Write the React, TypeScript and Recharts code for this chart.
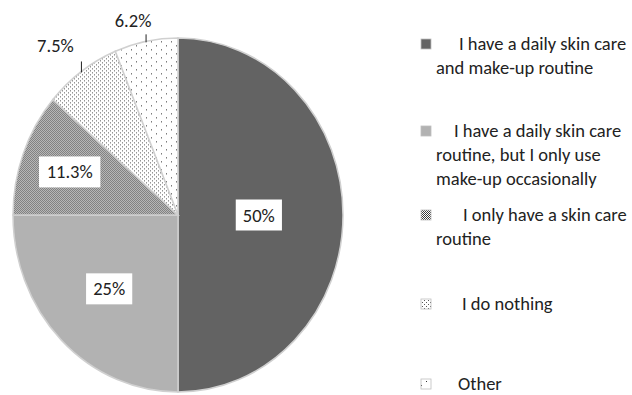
import React from 'react';
import { PieChart, Pie, Cell, Sector, Legend } from 'recharts';

// answers, in the order they are drawn (clockwise from 12 o'clock)
const categories = [
  'I have a daily skin care\nand make-up routine',
  'I have a daily skin care\nroutine, but I only use\nmake-up occasionally',
  'I only have a skin care\nroutine',
  'I do nothing',
  'Other',
];
const shares = [50, 25, 11.3, 7.5, 6.2];
const shareLabels = ['50%', '25%', '11.3%', '7.5%', '6.2%'];

const data = categories.map((name, i) => ({ name, value: shares[i], text: shareLabels[i] }));

const pieFills = ['#636363', '#b2b2b2', 'url(#patCheck)', 'url(#patDots)', 'url(#patSparse)'];
const legendFills = ['#636363', '#b2b2b2', 'url(#legCheck)', 'url(#legDots)', 'url(#legSparse)'];

// the original pie is a bit taller than wide
const SY = 177 / 165;
const FONT = 'Carlito, Lato, sans-serif';
const FS = 18.5;

// where each value label sits
const labelPlace = [
  { inside: true, r: 0.49 },
  { inside: true, r: 0.59 },
  { inside: true, r: 0.7 },
  { inside: false, dx: -26, lift: 10, textLift: 19 },
  { inside: false, dx: -13, lift: 7, textLift: 14 },
];

// legend: first-line indent and marker top for each item
const legendIndent = [23, 18, 27, 26, 22];
const legendTop = [39, 126, 210, 299, 379];

const charW = (c: string) => (c === '%' ? 0.85 : c === '.' ? 0.24 : 0.58);
const textWidth = (s: string) => s.split('').reduce((a, c) => a + charW(c) * FS, 0);

function PatternSet({ prefix, transform }: { prefix: string; transform?: string }) {
  return (
    <>
      <pattern id={`${prefix}Check`} width="2" height="2" patternUnits="userSpaceOnUse" patternTransform={transform}>
        <rect width="2" height="2" fill="#ffffff" />
        <rect x="0" y="0" width="1" height="1" fill="#3a3a3a" />
        <rect x="1" y="1" width="1" height="1" fill="#3a3a3a" />
      </pattern>
      <pattern id={`${prefix}Dots`} width="4" height="4" patternUnits="userSpaceOnUse" patternTransform={transform}>
        <rect width="4" height="4" fill="#ffffff" />
        <rect x="0" y="0" width="1" height="1" fill="#5a5a5a" />
        <rect x="2" y="2" width="1" height="1" fill="#5a5a5a" />
      </pattern>
      <pattern id={`${prefix}Sparse`} width="10" height="8" patternUnits="userSpaceOnUse" patternTransform={transform}>
        <rect width="10" height="8" fill="#ffffff" />
        <rect x="1" y="1" width="1" height="1" fill="#333333" />
        <rect x="6" y="5" width="1" height="1" fill="#333333" />
      </pattern>
    </>
  );
}

const ovalSector = (props: any) => {
  const { cx, cy } = props;
  return (
    <g transform={`translate(${cx},${cy}) scale(1,${SY}) translate(${-cx},${-cy})`}>
      <Sector {...props} />
    </g>
  );
};

const renderLabel = (p: any) => {
  const { cx, cy, midAngle, outerRadius, index } = p;
  const rad = (midAngle * Math.PI) / 180;
  const lp: any = labelPlace[index];
  const text = data[index].text;
  if (lp.inside) {
    const x = cx + outerRadius * lp.r * Math.cos(rad);
    const y = cy - outerRadius * SY * lp.r * Math.sin(rad);
    const w = textWidth(text) + 9;
    return (
      <g key={`lbl-${index}`}>
        <rect x={x - w / 2} y={y - 15.5} width={w} height={31} fill="#ffffff" />
        <text x={x} y={y + 6.5} textAnchor="middle" fontFamily={FONT} fontSize={FS} fill="#222222">
          {text}
        </text>
      </g>
    );
  }
  const ex = cx + outerRadius * Math.cos(rad);
  const ey = cy - outerRadius * SY * Math.sin(rad);
  return (
    <g key={`lbl-${index}`}>
      <line x1={ex} y1={ey + 1} x2={ex} y2={ey - lp.lift} stroke="#222222" strokeWidth={1} />
      <text x={ex + lp.dx} y={ey - lp.textLift} textAnchor="middle" fontFamily={FONT} fontSize={FS} fill="#222222">
        {text}
      </text>
    </g>
  );
};

const renderLegend = () => (
  <svg width={232} height={395}>
    <defs>
      <PatternSet prefix="leg" />
    </defs>
    {data.map((d, i) => {
      const lines = d.name.split('\n');
      const top = legendTop[i];
      return (
        <g key={`leg-${i}`}>
          <rect x={21} y={top} width={10} height={10} fill={legendFills[i]} stroke="#bfbfbf" strokeWidth={0.8} />
          <text fontFamily={FONT} fontSize={FS} fill="#222222">
            {lines.map((ln, j) => (
              <tspan key={j} x={36 + (j === 0 ? legendIndent[i] : 0)} y={top + 11 + j * 24}>
                {ln}
              </tspan>
            ))}
          </text>
        </g>
      );
    })}
  </svg>
);

export default function App() {
  return (
    <div style={{ position: 'absolute', left: 0, top: 0, background: '#ffffff' }}>
      <PieChart width={632} height={395} margin={{ top: 0, right: 0, bottom: 0, left: 0 }}>
        <defs>
          <PatternSet prefix="pat" transform={`scale(1,${1 / SY})`} />
        </defs>
        <Pie
          data={data}
          dataKey="value"
          nameKey="name"
          cx={178}
          cy={215}
          outerRadius={165}
          startAngle={90}
          endAngle={-270}
          stroke="#d0d0d0"
          strokeWidth={1.5}
          shape={ovalSector}
          label={renderLabel}
          labelLine={false}
          isAnimationActive={false}
        >
          {data.map((entry, index) => (
            <Cell key={`cell-${index}`} fill={pieFills[index]} />
          ))}
        </Pie>
        <Legend
          content={renderLegend}
          wrapperStyle={{ position: 'absolute', left: 400, top: 0, width: 232, height: 395 }}
        />
      </PieChart>
    </div>
  );
}
